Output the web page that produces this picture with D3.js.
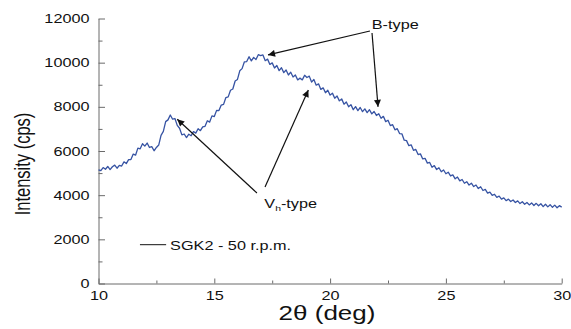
<!DOCTYPE html>
<html>
<head>
<meta charset="utf-8">
<script src="https://cdn.jsdelivr.net/npm/d3@7"></script>
<style>
  body { margin: 0; background: #fff; }
  text { font-family: "Liberation Sans", Arial, sans-serif; fill: #111; }
</style>
</head>
<body>
<div id="chart"></div>
<script>
// XRD pattern, SGK2 - 50 r.p.m., 2theta from 10 to 30 deg in 0.1 deg steps
const twoThetaStart = 10;
const twoThetaStep = 0.1;
const intensity = [
  5150, 5110, 5250, 5175, 5300, 5160, 5285, 5360, 5220, 5350,
  5320, 5510, 5430, 5610, 5610, 5860, 5810, 6130, 6100, 6330,
  6220, 6360, 6160, 6200, 6010, 6160, 6270, 6710, 6890, 7330,
  7410, 7630, 7440, 7470, 7160, 7030, 6730, 6770, 6610, 6760,
  6690, 6880, 6810, 7010, 6920, 7090, 7120, 7370, 7310, 7590,
  7560, 7840, 7830, 8080, 8110, 8420, 8450, 8750, 8810, 9170,
  9240, 9630, 9730, 10040, 10050, 10270, 10080, 10240, 10140, 10360,
  10320, 10350, 10090, 10160, 9920, 9990, 9760, 9870, 9640, 9770,
  9550, 9670, 9440, 9570, 9350, 9440, 9220, 9300, 9220, 9430,
  9330, 9390, 9120, 9240, 8980, 9040, 8790, 8860, 8640, 8750,
  8530, 8620, 8390, 8490, 8270, 8360, 8120, 8220, 8000, 8100,
  7870, 8010, 7830, 7970, 7780, 7910, 7740, 7870, 7680, 7790,
  7610, 7690, 7480, 7570, 7330, 7390, 7150, 7190, 6960, 7010,
  6790, 6780, 6490, 6470, 6240, 6280, 6030, 6070, 5840, 5870,
  5640, 5670, 5450, 5480, 5260, 5340, 5160, 5240, 5060, 5140,
  4970, 5040, 4870, 4920, 4740, 4820, 4650, 4710, 4540, 4610,
  4460, 4540, 4390, 4460, 4300, 4380, 4210, 4260, 4090, 4140,
  3990, 4040, 3900, 3960, 3820, 3880, 3750, 3820, 3710, 3780,
  3670, 3740, 3620, 3700, 3590, 3670, 3560, 3650, 3530, 3630,
  3520, 3610, 3480, 3590, 3470, 3570, 3450, 3550, 3430, 3525,
  3460
];
const xTicks = [10, 15, 20, 25, 30];
const xMinorTicks = [12.5, 17.5, 22.5, 27.5];
const yTicks = [0, 2000, 4000, 6000, 8000, 10000, 12000];
const yMinorTicks = [1000, 3000, 5000, 7000, 9000, 11000];
const seriesName = 'SGK2 - 50 r.p.m.';
// annotation arrows in data units: [x1, y1, x2, y2]
const bTypeArrows = [[21.72, 11435, 17.32, 10350], [21.81, 11345, 22.07, 8000]];
const vhTypeArrows = [[16.84, 4100, 13.40, 7440], [17.19, 4370, 19.06, 8760]];
const bTypeLabel = [21.8, 11525];
const vhTypeLabel = [17.16, 3430];
const legendLine = [11.79, 12.92, 1757];

const width = 571;
const height = 329;
const SX = 1.3; // the figure text is horizontally stretched

const data = intensity.map((v, i) => ({ t: twoThetaStart + i * twoThetaStep, v }));

const x = d3.scaleLinear().domain([10, 30]).range([98.5, 561.7]);
const y = d3.scaleLinear().domain([0, 12000]).range([283.5, 18.5]);

const svg = d3.select('#chart')
  .append('svg')
  .attr('width', width)
  .attr('height', height);

const axisColor = '#6b6b6b';

// minor ticks first
svg.append('g')
  .attr('transform', `translate(0, ${y(0)})`)
  .call(d3.axisBottom(x).tickValues(xMinorTicks).tickSize(-3).tickFormat(''))
  .call(g => g.select('.domain').remove())
  .call(g => g.selectAll('line').attr('stroke', axisColor));

svg.append('g')
  .attr('transform', `translate(${x(10)}, 0)`)
  .call(d3.axisLeft(y).tickValues(yMinorTicks).tickSize(-4).tickFormat(''))
  .call(g => g.select('.domain').remove())
  .call(g => g.selectAll('line').attr('stroke', axisColor));

svg.append('g')
  .attr('transform', `translate(0, ${y(0)})`)
  .call(d3.axisBottom(x).tickValues(xTicks).tickSize(-5).tickSizeOuter(0).tickPadding(8).tickFormat(d3.format('d')))
  .call(g => g.select('.domain').attr('stroke', axisColor))
  .call(g => g.selectAll('line').attr('stroke', axisColor))
  .call(g => g.selectAll('text')
    .attr('font-size', 12.5)
    .attr('font-family', '"Liberation Sans", Arial, sans-serif')
    .attr('fill', '#111')
    .attr('transform', `scale(${SX},1)`));

svg.append('g')
  .attr('transform', `translate(${x(10)}, 0)`)
  .call(d3.axisLeft(y).tickValues(yTicks).tickSize(-6.5).tickSizeOuter(0).tickPadding(9).tickFormat(d3.format('d')))
  .call(g => g.select('.domain').attr('stroke', axisColor))
  .call(g => g.selectAll('line').attr('stroke', axisColor))
  .call(g => g.selectAll('text')
    .attr('x', -9 / SX)
    .attr('font-size', 12.5)
    .attr('font-family', '"Liberation Sans", Arial, sans-serif')
    .attr('fill', '#111')
    .attr('transform', `scale(${SX},1)`));

// axis titles
svg.append('text')
  .attr('transform', `translate(22.5, 164) scale(${SX},1) rotate(-90)`)
  .attr('text-anchor', 'middle')
  .attr('dy', '0.35em')
  .attr('font-size', 16.5)
  .text('Intensity (cps)');

svg.append('text')
  .attr('x', 327 / SX)
  .attr('y', 320)
  .attr('transform', `scale(${SX},1)`)
  .attr('text-anchor', 'middle')
  .attr('font-size', 20)
  .text('2θ (deg)');

// the pattern
const line = d3.line()
  .x(d => x(d.t))
  .y(d => y(d.v));

svg.append('path')
  .datum(data)
  .attr('fill', 'none')
  .attr('stroke', '#3653a3')
  .attr('stroke-width', 1.3)
  .attr('stroke-linejoin', 'round')
  .attr('d', line);

// arrows
svg.append('defs').append('marker')
  .attr('id', 'head')
  .attr('markerUnits', 'userSpaceOnUse')
  .attr('viewBox', '0 0 10 10')
  .attr('refX', 10)
  .attr('refY', 5)
  .attr('markerWidth', 11)
  .attr('markerHeight', 7)
  .attr('orient', 'auto')
  .append('path')
  .attr('d', 'M0,0L10,5L0,10z')
  .attr('fill', '#111');

svg.selectAll('line.arrow')
  .data(bTypeArrows.concat(vhTypeArrows))
  .enter()
  .append('line')
  .attr('class', 'arrow')
  .attr('x1', d => x(d[0]))
  .attr('y1', d => y(d[1]))
  .attr('x2', d => x(d[2]))
  .attr('y2', d => y(d[3]))
  .attr('stroke', '#111')
  .attr('stroke-width', 1.2)
  .attr('marker-end', 'url(#head)');

svg.append('text')
  .attr('x', x(bTypeLabel[0]) / SX)
  .attr('y', y(bTypeLabel[1]))
  .attr('transform', `scale(${SX},1)`)
  .attr('font-size', 12.5)
  .text('B-type');

const vh = svg.append('text')
  .attr('x', x(vhTypeLabel[0]) / SX)
  .attr('y', y(vhTypeLabel[1]))
  .attr('transform', `scale(${SX},1)`)
  .attr('font-size', 12.5);
vh.append('tspan').text('V');
vh.append('tspan').attr('font-size', 8).attr('dy', 3).text('h');
vh.append('tspan').attr('dy', -3).text('-type');

// legend
svg.append('line')
  .attr('x1', x(legendLine[0]))
  .attr('x2', x(legendLine[1]))
  .attr('y1', y(legendLine[2]))
  .attr('y2', y(legendLine[2]))
  .attr('stroke', '#111')
  .attr('stroke-width', 1);

svg.append('text')
  .attr('x', (x(legendLine[1]) + 4) / SX)
  .attr('y', y(legendLine[2]) + 5)
  .attr('transform', `scale(${SX},1)`)
  .attr('font-size', 12.5)
  .text(seriesName);
</script>
</body>
</html>
